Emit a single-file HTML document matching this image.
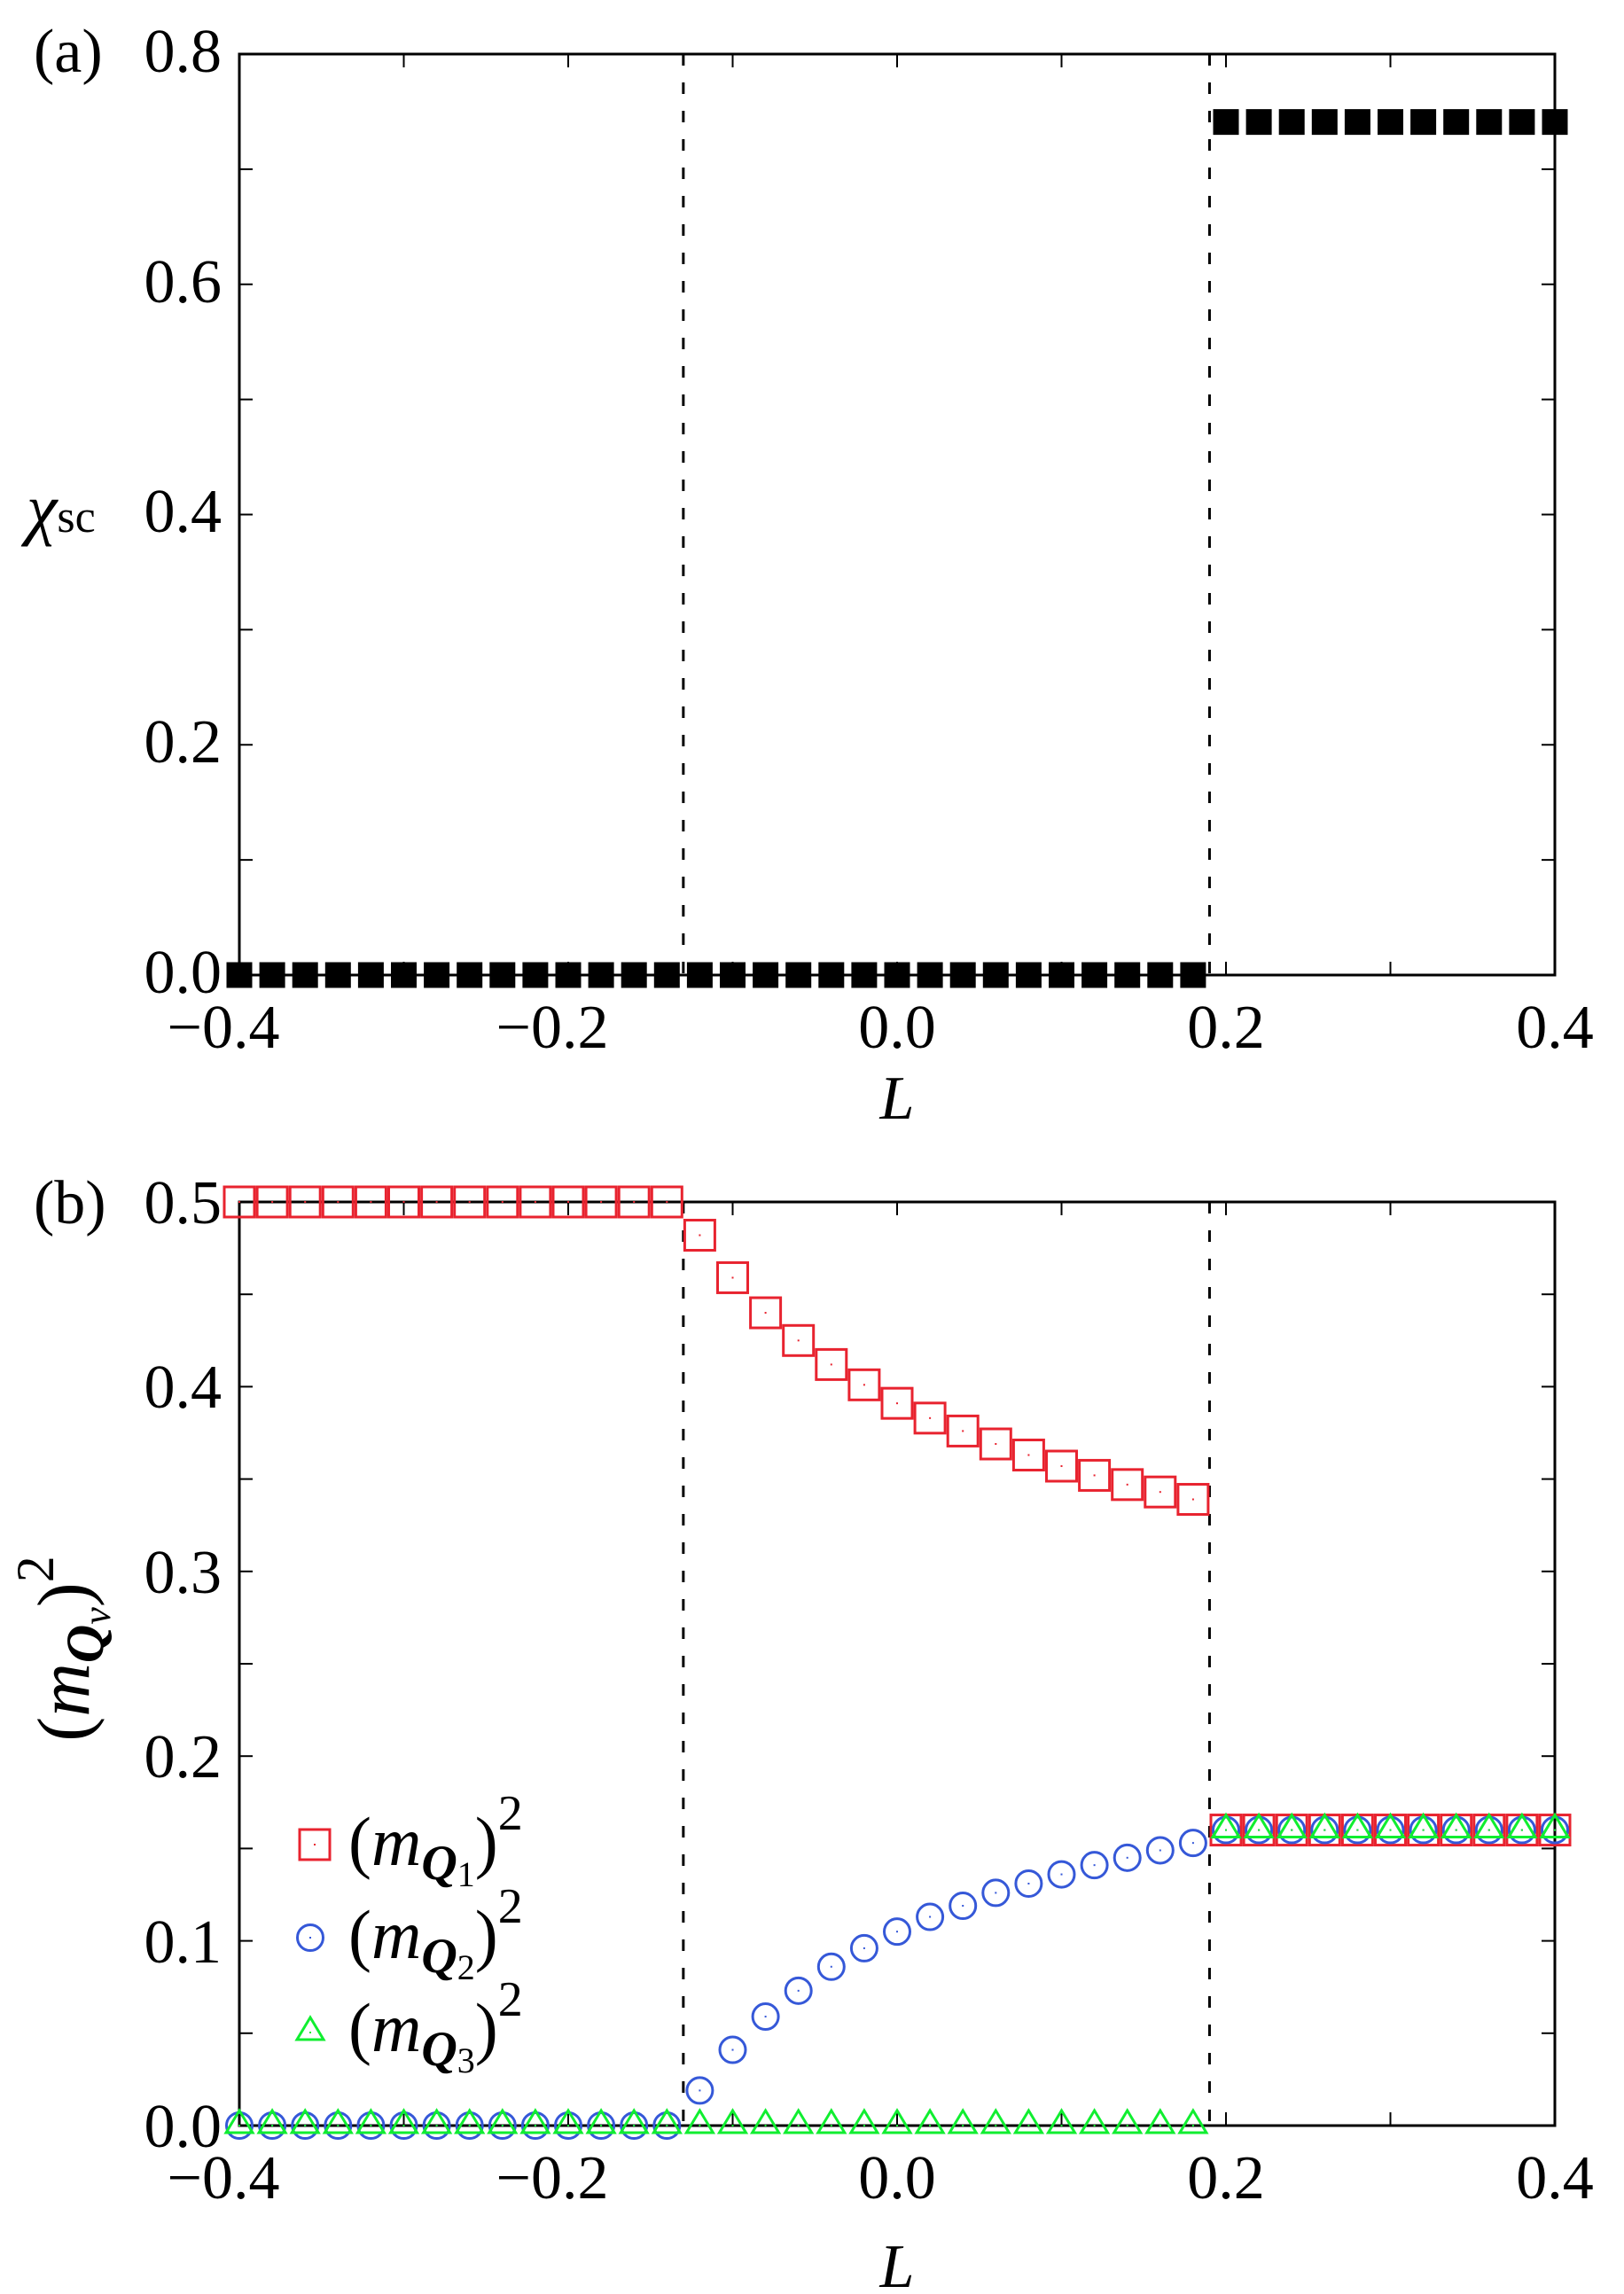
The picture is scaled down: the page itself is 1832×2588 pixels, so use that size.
<!DOCTYPE html>
<html><head><meta charset="utf-8"><style>
html,body{margin:0;padding:0;background:#fff;}
svg{display:block;}
text{font-family:"Liberation Serif",serif;fill:#000;}
</style></head><body>
<svg id="s" xmlns="http://www.w3.org/2000/svg" width="1832" height="2588" viewBox="0 0 1832 2588">
<rect width="1832" height="2588" fill="#fff"/>
<g id="ticks" stroke="#000" stroke-width="2"></g>
<g id="dash" stroke="#000" stroke-width="3" stroke-dasharray="13,19"></g>
<rect x="270" y="61" width="1484" height="1039" fill="none" stroke="#000" stroke-width="3"/>
<rect x="270" y="1356" width="1484" height="1042" fill="none" stroke="#000" stroke-width="3"/>
<g id="marks"></g>

<text x="38" y="81" font-size="70">(a)</text>
<g font-size="70" text-anchor="end">
<text x="250" y="81">0.8</text>
<text x="250" y="341">0.6</text>
<text x="250" y="600">0.4</text>
<text x="250" y="860">0.2</text>
<text x="250" y="1120">0.0</text>
</g>
<text x="30" y="600" font-size="78"><tspan font-style="italic">χ</tspan><tspan font-size="52">sc</tspan></text>
<g font-size="70" text-anchor="middle">
<text x="252" y="1182">−0.4</text>
<text x="623" y="1182">−0.2</text>
<text x="1012" y="1182">0.0</text>
<text x="1383" y="1182">0.2</text>
<text x="1754" y="1182">0.4</text>
<text x="1012" y="1262" font-style="italic">L</text>
</g>

<text x="38" y="1380" font-size="70">(b)</text>
<g font-size="70" text-anchor="end">
<text x="250" y="1380">0.5</text>
<text x="250" y="1588">0.4</text>
<text x="250" y="1797">0.3</text>
<text x="250" y="2005">0.2</text>
<text x="250" y="2214">0.1</text>
<text x="250" y="2422">0.0</text>
</g>
<g font-size="70" text-anchor="middle">
<text x="252" y="2480">−0.4</text>
<text x="623" y="2480">−0.2</text>
<text x="1012" y="2480">0.0</text>
<text x="1383" y="2480">0.2</text>
<text x="1754" y="2480">0.4</text>
<text x="1012" y="2580" font-style="italic">L</text>
</g>
<text transform="translate(100,1860) rotate(-90)" font-size="84" text-anchor="middle">(<tspan font-style="italic">m</tspan><tspan font-size="60" dy="16" font-style="italic" font-weight="bold">Q</tspan><tspan font-size="44" dy="8" font-style="italic">ν</tspan><tspan dy="-24">)</tspan><tspan font-size="60" dy="-40">2</tspan></text>

<g font-size="78">
<text x="393" y="2104">(<tspan font-style="italic">m</tspan><tspan font-size="56" dy="16" font-style="italic" font-weight="bold">Q</tspan><tspan font-size="40" dy="8">1</tspan><tspan dy="-24">)</tspan><tspan font-size="56" dy="-40">2</tspan></text>
<text x="393" y="2209">(<tspan font-style="italic">m</tspan><tspan font-size="56" dy="16" font-style="italic" font-weight="bold">Q</tspan><tspan font-size="40" dy="8">2</tspan><tspan dy="-24">)</tspan><tspan font-size="56" dy="-40">2</tspan></text>
<text x="393" y="2314">(<tspan font-style="italic">m</tspan><tspan font-size="56" dy="16" font-style="italic" font-weight="bold">Q</tspan><tspan font-size="40" dy="8">3</tspan><tspan dy="-24">)</tspan><tspan font-size="56" dy="-40">2</tspan></text>
</g>
</svg>
<script>
(function(){
var NS="http://www.w3.org/2000/svg";
function el(p,t,a){var e=document.createElementNS(NS,t);for(var k in a)e.setAttribute(k,a[k]);p.appendChild(e);return e;}
var X=function(v){return 270+(v+0.4)*1855;};
var Ya=function(v){return 1100-v*1298.75;};
var Yb=function(v){return 2398-v*2084;};
var T=document.getElementById('ticks'),D=document.getElementById('dash'),M=document.getElementById('marks');
function xt(top,bot){for(var i=-4;i<=4;i++){var x=X(i/10);el(T,'line',{x1:x,y1:bot,x2:x,y2:bot-15});el(T,'line',{x1:x,y1:top,x2:x,y2:top+15});}}
xt(61,1100);xt(1356,2398);
for(var i=0;i<=8;i++){var y=Ya(i/10);el(T,'line',{x1:270,y1:y,x2:285,y2:y});el(T,'line',{x1:1754,y1:y,x2:1739,y2:y});}
for(var i=0;i<=10;i++){var y=Yb(i/20);el(T,'line',{x1:270,y1:y,x2:285,y2:y});el(T,'line',{x1:1754,y1:y,x2:1739,y2:y});}
[-0.13,0.19].forEach(function(v){var x=X(v);el(D,'line',{x1:x,y1:61,x2:x,y2:1100});el(D,'line',{x1:x,y1:1356,x2:x,y2:2398});});
var xs=[];for(var i=0;i<=40;i++)xs.push(-0.4+i*0.02);
xs.forEach(function(x){var v=x>0.19?0.741:0;el(M,'rect',{x:X(x)-14.5,y:Ya(v)-14.5,width:29,height:29,fill:'#000'});});
var red=[0.482,0.459,0.44,0.425,0.412,0.401,0.391,0.383,0.376,0.369,0.363,0.357,0.352,0.347,0.343,0.339];
var blue=[0.019,0.041,0.059,0.073,0.086,0.096,0.105,0.113,0.119,0.126,0.131,0.136,0.141,0.145,0.149,0.153];
var R='#e8232f',B='#3558d8',G='#10ee30';
function sq(cx,cy){el(M,'rect',{x:cx-17,y:cy-17,width:34,height:34,fill:'none',stroke:R,'stroke-width':3});el(M,'rect',{x:cx-1,y:cy-1,width:2,height:2,fill:R});}
function ci(cx,cy){el(M,'circle',{cx:cx,cy:cy,r:14.5,fill:'none',stroke:B,'stroke-width':3});el(M,'rect',{x:cx-1,y:cy-1,width:2,height:2,fill:B});}
function tr(cx,cy){el(M,'polygon',{points:(cx-15)+','+(cy+8)+' '+(cx+15)+','+(cy+8)+' '+cx+','+(cy-17),fill:'none',stroke:G,'stroke-width':3});el(M,'rect',{x:cx-1,y:cy-1,width:2,height:2,fill:G});}
var vals=xs.map(function(x,i){if(i<=13)return[0.5,0,0];if(i<=29)return[red[i-14],blue[i-14],0];return[0.16,0.16,0.16];});
xs.forEach(function(x,i){sq(X(x),Yb(vals[i][0]));});
xs.forEach(function(x,i){ci(X(x),Yb(vals[i][1]));});
xs.forEach(function(x,i){tr(X(x),Yb(vals[i][2]));});
sq(355,2081);ci(350,2186);tr(350,2293);
})();
</script>
</body></html>
